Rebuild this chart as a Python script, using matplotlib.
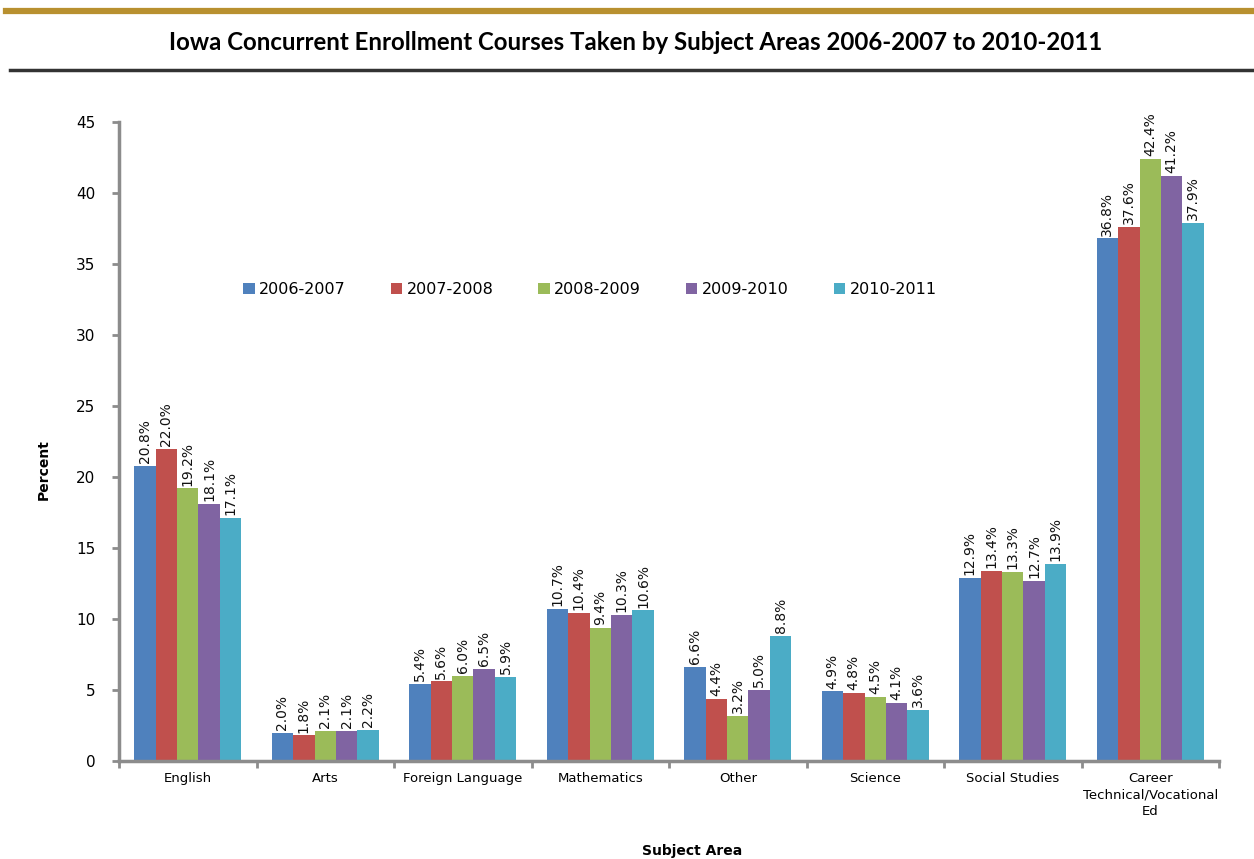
import numpy as np
import matplotlib.pyplot as plt
from matplotlib.lines import Line2D

subjects = ['English', 'Arts', 'Foreign Language', 'Mathematics', 'Other',
            'Science', 'Social Studies', 'Career\nTechnical/Vocational\nEd']
years = ['2006-2007', '2007-2008', '2008-2009', '2009-2010', '2010-2011']
pct_0607 = [20.8, 2.0, 5.4, 10.7, 6.6, 4.9, 12.9, 36.8]
pct_0708 = [22.0, 1.8, 5.6, 10.4, 4.4, 4.8, 13.4, 37.6]
pct_0809 = [19.2, 2.1, 6.0, 9.4, 3.2, 4.5, 13.3, 42.4]
pct_0910 = [18.1, 2.1, 6.5, 10.3, 5.0, 4.1, 12.7, 41.2]
pct_1011 = [17.1, 2.2, 5.9, 10.6, 8.8, 3.6, 13.9, 37.9]
series = [pct_0607, pct_0708, pct_0809, pct_0910, pct_1011]
colors = ['#4F81BD', '#C0504D', '#9BBB59', '#8064A2', '#4BACC6']

fig = plt.figure(figsize=(12.54, 8.59), dpi=100)

# header rules
fig.add_artist(Line2D([0.005, 1.0], [1 - 11 / 859] * 2, color='#B8902F', lw=4.5))
fig.add_artist(Line2D([0.008, 1.0], [1 - 70 / 859] * 2, color='#333333', lw=2.5))
fig.text(0.507, 1 - 43 / 859, 'Iowa Concurrent Enrollment Courses Taken by Subject Areas 2006-2007 to 2010-2011',
         ha='center', va='center', fontsize=17.3, fontweight='bold', family='Lato')

ax = fig.add_axes([119 / 1254, 1 - 761 / 859, 1100 / 1254, 639 / 859])
x = np.arange(len(subjects))
w = 0.156
for i, (vals, c, yr) in enumerate(zip(series, colors, years)):
    pos = x + (i - 2) * w
    ax.bar(pos, vals, width=w, color=c, label=yr, zorder=2)
    for p, v in zip(pos, vals):
        ax.text(p, v + 0.2, f'{v:.1f}%', rotation=90, ha='center', va='bottom',
                fontsize=10, color='#111111')

ax.set_xlim(-0.5, len(subjects) - 0.5)
ax.set_ylim(0, 45)
ax.set_yticks(range(0, 46, 5))
ax.set_xticks(np.arange(-0.5, len(subjects), 1.0), minor=False)
ax.set_xticklabels([])
ax.set_xticks(x, minor=True)
ax.set_xticklabels(subjects, minor=True, fontsize=9.5, linespacing=1.35)
ax.tick_params(axis='x', which='minor', length=0, pad=8)
ax.tick_params(axis='x', which='major', length=5, width=2, color='#8C8C8C', direction='out')
ax.tick_params(axis='y', length=5, width=2, color='#8C8C8C', labelsize=11, pad=12)
for side in ['top', 'right']:
    ax.spines[side].set_visible(False)
for side in ['left', 'bottom']:
    ax.spines[side].set_color('#8C8C8C')
    ax.spines[side].set_linewidth(2.5)

ax.legend(loc='center', bbox_to_anchor=((590 - 119) / 1100, (761 - 290) / 639), ncol=5, frameon=False,
          fontsize=11.5, handlelength=0.7, handleheight=0.7, handletextpad=0.3, columnspacing=2.8)

fig.text(44 / 1254, 1 - 470 / 859, 'Percent', rotation=90, ha='center', va='center',
         fontsize=10, fontweight='bold')
fig.text(692 / 1254, 1 - 851 / 859, 'Subject Area', ha='center', va='center',
         fontsize=10, fontweight='bold')

plt.savefig('out.png', dpi=100)
